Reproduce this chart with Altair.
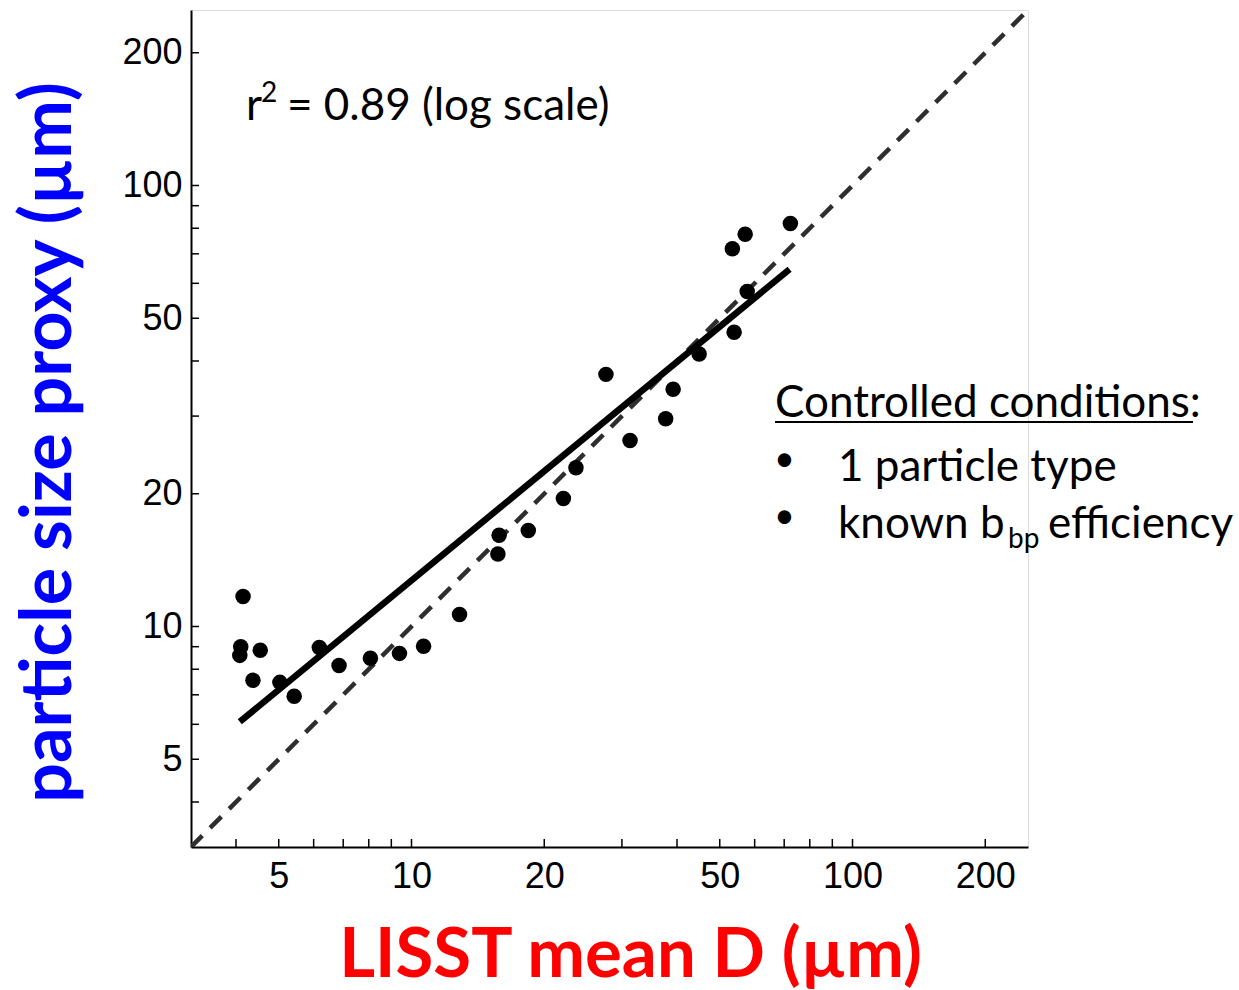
import altair as alt
import pandas as pd

# ---- data ----
lisst_d = [4.08, 4.10, 4.15, 4.37, 4.54, 5.03, 5.42, 6.18, 6.85, 8.07, 9.39, 10.65,
           12.85, 15.7, 15.8, 18.4, 22.1, 23.6, 27.6, 31.3, 37.7, 39.2, 44.9, 53.9,
           53.4, 57.1, 57.7, 72.3]
proxy = [8.6, 9.0, 11.7, 7.55, 8.83, 7.47, 6.95, 8.96, 8.16, 8.47, 8.69, 9.02,
         10.65, 14.6, 16.1, 16.5, 19.5, 22.9, 37.3, 26.4, 29.6, 34.5, 41.5, 46.5,
         71.9, 77.5, 57.5, 82.0]
fit_x = [4.08, 72.0]
fit_y = [6.08, 64.6]
one_to_one = [3.1623, 250]
label_ticks = [5, 10, 20, 50, 100, 200]
all_ticks = [4, 5, 6, 7, 8, 9, 10, 20, 30, 40, 50, 60, 70, 80, 90, 100, 200]
domain = [3.1623, 250]

r_text = ["r"]
sup_text = ["2"]
r2_rest = ["= 0.89 (log scale)"]
legend_head = ["Controlled conditions:"]
line1 = ["1 particle type"]
line2 = ["known b"]
sub_text = ["bp"]
tail_text = ["efficiency"]

W = H = 837
xs = alt.Scale(type="log", domain=domain, nice=False)
ys = alt.Scale(type="log", domain=domain, nice=False)

x_axis = alt.Axis(values=label_ticks, format="d", grid=False, ticks=False, tickSize=0,
                  domainColor="black", domainWidth=2, labelFont="Liberation Sans",
                  labelFontSize=36, labelColor="black", labelPadding=12,
                  labelFlush=False, labelOverlap=False,
                  title="LISST mean D (µm)", titleFont="Lato", titleFontWeight="bold",
                  titleFontSize=69, titleColor="#FF0000", titleX=439, titleY=129,
                  titleAlign="center", titleBaseline="alphabetic")
y_axis = alt.Axis(values=label_ticks, format="d", grid=False, ticks=False, tickSize=0,
                  domainColor="black", domainWidth=2, labelFont="Liberation Sans",
                  labelFontSize=36, labelColor="black", labelPadding=9,
                  labelFlush=False, labelOverlap=False,
                  title="particle size proxy (µm)", titleFont="Lato", titleFontWeight="bold",
                  titleFontSize=70, titleColor="#0000FF", titleX=-121, titleY=432,
                  titleAngle=270, titleAlign="center", titleBaseline="alphabetic")

pts_df = pd.DataFrame({"d": lisst_d, "p": proxy})
fit_df = pd.DataFrame({"d": fit_x, "p": fit_y})
one_df = pd.DataFrame({"d": one_to_one, "p": one_to_one})
tick_df = pd.DataFrame({"d": all_ticks, "p": all_ticks})

X = alt.X("d:Q", scale=xs, axis=x_axis)
Y = alt.Y("p:Q", scale=ys, axis=y_axis)

dashed = alt.Chart(one_df).mark_line(color="#2e2e2e", strokeWidth=4.5, strokeDash=[16, 11],
                                     clip=True).encode(x=X, y=Y)
fit = alt.Chart(fit_df).mark_line(color="black", strokeWidth=6.5).encode(x=X, y=Y)
pts = alt.Chart(pts_df).mark_circle(size=240, color="black", opacity=1).encode(x=X, y=Y)

xticks = alt.Chart(tick_df).mark_rule(color="black", strokeWidth=1.5).encode(
    x=X, y=alt.value(H), y2=alt.value(H - 8))
yticks = alt.Chart(tick_df).mark_rule(color="black", strokeWidth=1.5).encode(
    y=Y, x=alt.value(0), x2=alt.value(8))

font = "Lato"
FS = 44


def txt(values, x, y, size=FS):
    return alt.Chart(pd.DataFrame({"s": values})).mark_text(
        font=font, fontSize=size, align="left", baseline="alphabetic", color="black"
    ).encode(text="s:N", x=alt.value(x), y=alt.value(y))


r_mark = txt(r_text, 55, 110)
sup_mark = txt(sup_text, 70, 92, 28)
rest_mark = txt(r2_rest, 96, 110)
head = txt(legend_head, 584, 407)
underline = alt.Chart(pd.DataFrame({"s": legend_head})).mark_rule(
    color="black", strokeWidth=2).encode(x=alt.value(584), x2=alt.value(1002), y=alt.value(412))
bullet1 = txt(["•"], 583, 461, 36)
bullet2 = txt(["•"], 583, 518, 36)
l1 = txt(line1, 647, 471)
l2 = txt(line2, 647, 528)
sub = txt(sub_text, 817, 538, 28)
tail = txt(tail_text, 857, 528)

chart = alt.layer(dashed, fit, xticks, yticks, pts, r_mark, sup_mark, rest_mark, head,
                  underline, bullet1, bullet2, l1, l2, sub, tail).properties(
    width=W, height=H,
    autosize=alt.AutoSizeParams(type="none"),
    padding={"left": 191, "top": 10, "right": 211, "bottom": 143},
).configure_view(stroke="#999999", strokeWidth=1.5).configure(background="white")

chart.save("out.html", embed_options={"renderer": "svg", "actions": False})
